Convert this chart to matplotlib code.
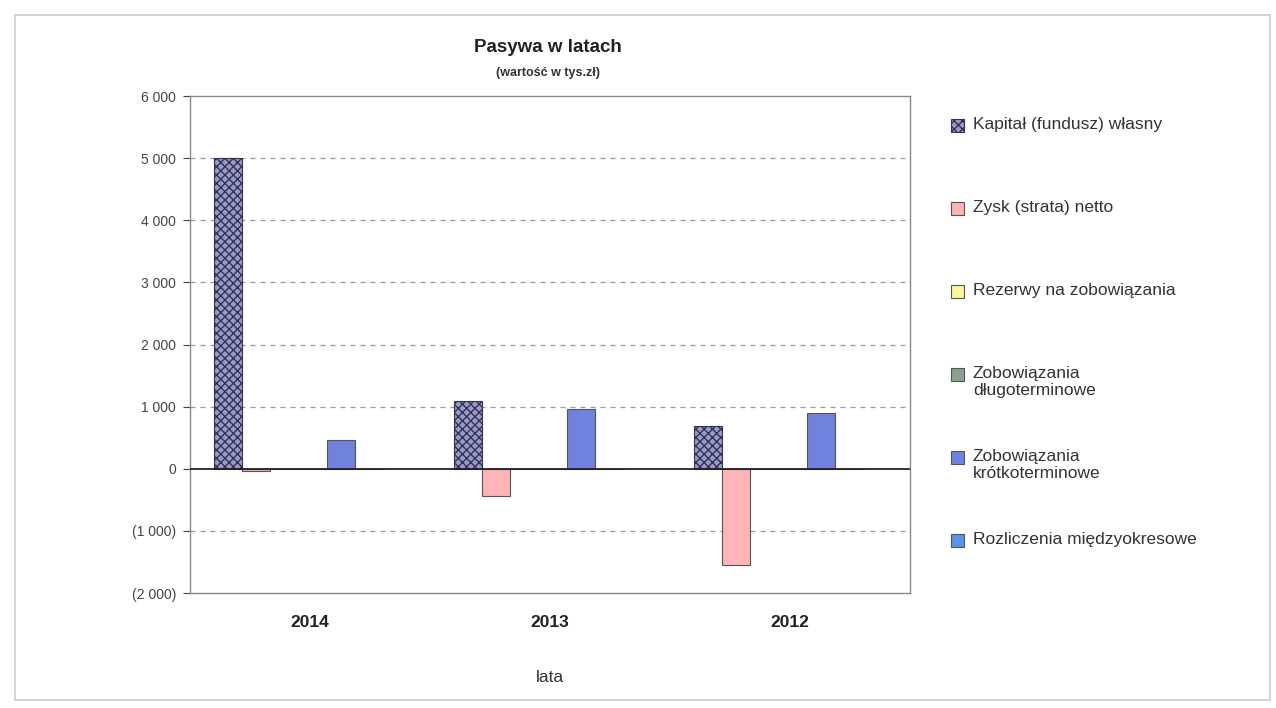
import numpy as np
import matplotlib.pyplot as plt
from matplotlib.ticker import FuncFormatter
from matplotlib.patches import Rectangle

plt.rcParams['font.family'] = ['Liberation Sans', 'DejaVu Sans']

lata = ["2014", "2013", "2012"]
serie = ["Kapitał (fundusz) własny", "Zysk (strata) netto", "Rezerwy na zobowiązania",
         "Zobowiązania\ndługoterminowe", "Zobowiązania\nkrótkoterminowe",
         "Rozliczenia międzyokresowe"]
kapital = [5000, 1090, 690]
zysk = [-30, -440, -1545]
rezerwy = [0, 0, 0]
zob_dlugo = [0, 0, 0]
zob_krotko = [470, 955, 890]
rozliczenia = [0, 0, 0]
wartosci = [kapital, zysk, rezerwy, zob_dlugo, zob_krotko, rozliczenia]

kolory = ["#9a9ac8", "#ffb4b8", "#fbf59a", "#8aa090", "#6f82de", "#5b93e6"]
kreski = ["xxxx", None, None, None, None, None]
obwodki = ["#333355", "#555555", "#555555", "#555555", "#555555", "#555555"]

fig = plt.figure(figsize=(12.76, 7.08), dpi=100)
ax = fig.add_axes([190/1276, 1-593/708, 720/1276, 497/708])

x = np.arange(len(lata))
w = 0.118
for i, (vals, kol, h) in enumerate(zip(wartosci, kolory, kreski)):
    ax.bar(x + (i - 2.9) * w, vals, w, color=kol, edgecolor=obwodki[i],
           linewidth=0.8, hatch=h, label=serie[i], zorder=3)

ax.set_xlim(-0.5, 2.5)
ax.set_ylim(-2000, 6000)
ax.set_yticks(range(-2000, 6001, 1000))
ax.yaxis.set_major_formatter(FuncFormatter(
    lambda v, p: "0" if v == 0 else ("({:,.0f})".format(-v) if v < 0 else "{:,.0f}".format(v)).replace(",", " ")))
for v in range(-1000, 6000, 1000):
    if v != 0:
        ax.axhline(v, color="#999999", linestyle=(0, (4, 4)), linewidth=0.9, zorder=1)
ax.axhline(0, color="#222222", linewidth=1.3, zorder=4)

ax.set_xticks(x)
ax.set_xticklabels(lata, fontsize=12.5, fontweight="bold", color="#222222")
ax.tick_params(axis="x", length=0, pad=16)
ax.tick_params(axis="y", labelsize=10, colors="#444444", length=5, direction="out", pad=5)
for s in ax.spines.values():
    s.set_color("#888888")
    s.set_linewidth(1.0)

ax.set_xlabel("lata", fontsize=12.5, color="#333333", labelpad=29)

fig.text(548/1276, 1-47/708, "Pasywa w latach", ha="center", va="center",
         fontsize=13.5, fontweight="bold", color="#222222")
fig.text(548/1276, 1-73/708, "(wartość w tys.zł)", ha="center", va="center",
         fontsize=9, fontweight="bold", color="#333333")

# legenda jak w Excelu: kazdy wpis ma stala wysokosc, znacznik przy pierwszej linii
for i, nazwa in enumerate(serie):
    y = 1 - (117 + i * 83) / 708
    fig.patches.append(Rectangle((951/1276, y - 15/708), 13/1276, 13/708,
                                 transform=fig.transFigure, facecolor=kolory[i],
                                 edgecolor=obwodki[i], linewidth=0.8, hatch=kreski[i]))
    fig.text(973/1276, y, nazwa, ha="left", va="top", fontsize=12.5,
             linespacing=1.15, color="#333333")

fig.patches.append(Rectangle((15/1276, 8/708), 1255/1276, 685/708, transform=fig.transFigure,
                             fill=False, edgecolor="#cccccc", linewidth=1.2))

fig.savefig("out.png", dpi=100)
